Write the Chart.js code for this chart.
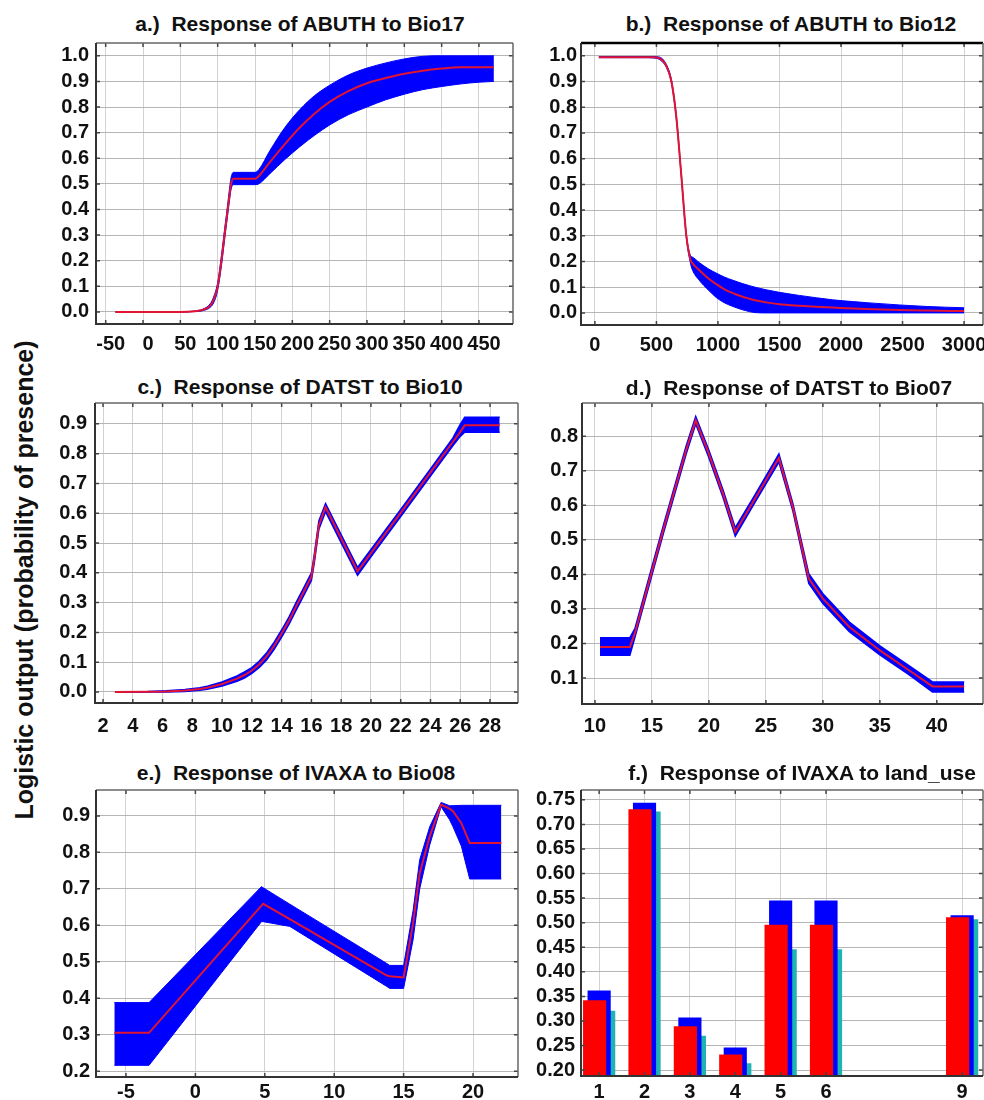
<!DOCTYPE html>
<html>
<head>
<meta charset="utf-8">
<title>Response curves</title>
<script src="https://cdn.jsdelivr.net/npm/chart.js@4.4.0/dist/chart.umd.min.js"></script>
<style>
  html, body { margin: 0; padding: 0; background: #fff; overflow: hidden; }
  #page { position: relative; width: 984px; height: 1100px; overflow: hidden;
          font-family: "Liberation Sans", Arial, sans-serif; color: #111; }
  .title { position: absolute; width: 420px; text-align: center; font-weight: bold;
           font-size: 21px; line-height: 24px; white-space: pre; }
  #ylabel { position: absolute; left: 24px; top: 580px; white-space: nowrap;
            transform: translate(-50%, -50%) rotate(-90deg);
            font-weight: bold; font-size: 25px; }
  canvas { position: absolute; }
</style>
</head>
<body>
<div id="page">
  <div id="ylabel">Logistic output (probability of presence)</div>
</div>
<script>
// a.) ABUTH vs Bio17
var aX    = [-37, 0, 50, 70, 80, 90, 95, 100, 105, 110, 113, 116, 118, 121, 150, 155, 170, 190, 210, 230, 250, 275, 300, 325, 350, 375, 400, 425, 450, 470];
var aMean = [0, 0, 0, 0.003, 0.008, 0.025, 0.05, 0.1, 0.2, 0.32, 0.39, 0.46, 0.5, 0.52, 0.52, 0.53, 0.585, 0.655, 0.72, 0.775, 0.82, 0.862, 0.893, 0.913, 0.93, 0.942, 0.95, 0.955, 0.955, 0.955];
var aLow  = [0, 0, 0, 0.002, 0.005, 0.018, 0.038, 0.085, 0.18, 0.3, 0.37, 0.44, 0.48, 0.497, 0.497, 0.5, 0.54, 0.595, 0.645, 0.69, 0.73, 0.77, 0.8, 0.828, 0.85, 0.868, 0.88, 0.89, 0.897, 0.9];
var aHigh = [0, 0, 0, 0.004, 0.011, 0.032, 0.062, 0.115, 0.22, 0.34, 0.41, 0.485, 0.525, 0.545, 0.545, 0.555, 0.63, 0.72, 0.79, 0.845, 0.885, 0.925, 0.952, 0.972, 0.988, 0.998, 1, 1, 1, 1];

// b.) ABUTH vs Bio12
var bX    = [32, 200, 400, 473, 527, 581, 622, 662, 703, 743, 778, 790, 851, 920, 986, 1050, 1122, 1200, 1257, 1311, 1392, 1500, 1662, 1800, 1932, 2100, 2203, 2473, 2700, 3000];
var bMean = [0.995, 0.995, 0.995, 0.995, 0.99, 0.96, 0.9, 0.76, 0.53, 0.3, 0.205, 0.195, 0.165, 0.135, 0.112, 0.093, 0.077, 0.063, 0.055, 0.048, 0.041, 0.034, 0.028, 0.024, 0.021, 0.017, 0.015, 0.011, 0.009, 0.007];
var bLow  = [0.993, 0.993, 0.993, 0.992, 0.985, 0.955, 0.893, 0.752, 0.522, 0.292, 0.19, 0.17, 0.125, 0.09, 0.06, 0.04, 0.025, 0.012, 0.005, 0.001, 0, 0, 0, 0, 0, 0, 0, 0, 0, 0];
var bHigh = [0.997, 0.997, 0.997, 0.997, 0.995, 0.966, 0.907, 0.768, 0.538, 0.308, 0.222, 0.218, 0.195, 0.172, 0.155, 0.14, 0.127, 0.114, 0.106, 0.099, 0.09, 0.08, 0.068, 0.059, 0.051, 0.044, 0.04, 0.031, 0.025, 0.02];
var bTicks = [0, 500, 1000, 1500, 2000, 2500, 3000];

// c.) DATST vs Bio10
var cX    = [2.8, 5, 6.25, 7.5, 8.5, 9, 10, 11, 11.5, 12, 12.5, 13, 13.5, 14, 14.5, 15, 15.5, 16, 16.2, 16.5, 16.95, 19.1, 20, 22, 24, 25.5, 26, 26.3, 27, 28.65];
var cMean = [0, 0.001, 0.002, 0.005, 0.01, 0.014, 0.027, 0.045, 0.057, 0.072, 0.093, 0.12, 0.155, 0.196, 0.24, 0.29, 0.338, 0.387, 0.45, 0.56, 0.62, 0.405, 0.466, 0.601, 0.737, 0.839, 0.873, 0.895, 0.895, 0.895];
var cLow  = [0, 0, 0, 0.002, 0.006, 0.009, 0.02, 0.036, 0.047, 0.062, 0.082, 0.108, 0.143, 0.184, 0.228, 0.277, 0.325, 0.374, 0.436, 0.546, 0.605, 0.392, 0.454, 0.589, 0.725, 0.826, 0.858, 0.872, 0.872, 0.872];
var cHigh = [0.001, 0.002, 0.004, 0.008, 0.014, 0.019, 0.034, 0.054, 0.067, 0.082, 0.104, 0.132, 0.167, 0.208, 0.252, 0.303, 0.351, 0.4, 0.464, 0.574, 0.632, 0.418, 0.478, 0.613, 0.749, 0.852, 0.898, 0.922, 0.922, 0.922];

// d.) DATST vs Bio07
var dX    = [10.44, 13.06, 13.5, 14, 15, 16, 17, 18, 18.84, 19.98, 21.23, 22.31, 24, 26.14, 27.36, 28.76, 30, 32.32, 35, 37.58, 39.62, 42.4];
var dMean = [0.19, 0.19, 0.23, 0.29, 0.41, 0.53, 0.645, 0.76, 0.846, 0.75, 0.634, 0.523, 0.617, 0.737, 0.595, 0.388, 0.33, 0.248, 0.18, 0.122, 0.076, 0.076];
var dLow  = [0.166, 0.166, 0.217, 0.278, 0.398, 0.518, 0.633, 0.748, 0.835, 0.739, 0.623, 0.511, 0.606, 0.725, 0.584, 0.374, 0.316, 0.234, 0.167, 0.109, 0.06, 0.06];
var dHigh = [0.217, 0.217, 0.243, 0.302, 0.422, 0.542, 0.657, 0.772, 0.857, 0.761, 0.645, 0.535, 0.628, 0.749, 0.606, 0.402, 0.344, 0.262, 0.193, 0.135, 0.089, 0.089];

// e.) IVAXA vs Bio08
var eX    = [-5.84, -3.34, 4.76, 4.88, 6.8, 13.76, 14, 15, 15.68, 16.16, 16.88, 17.7, 18.3, 18.56, 19.16, 19.76, 22.04];
var eMean = [0.305, 0.305, 0.654, 0.659, 0.617, 0.463, 0.46, 0.457, 0.605, 0.743, 0.844, 0.931, 0.92, 0.913, 0.88, 0.826, 0.826];
var eLow  = [0.216, 0.216, 0.61, 0.61, 0.597, 0.433, 0.427, 0.427, 0.56, 0.7, 0.82, 0.925, 0.89, 0.87, 0.817, 0.727, 0.727];
var eHigh = [0.388, 0.388, 0.706, 0.703, 0.658, 0.496, 0.49, 0.49, 0.64, 0.78, 0.87, 0.937, 0.928, 0.928, 0.929, 0.929, 0.929];

// f.) IVAXA vs land_use (categorical)
var fCats = [1, 2, 3, 4, 5, 6, 9];
var fRed  = [0.342, 0.731, 0.289, 0.232, 0.496, 0.496, 0.511];
var fBlue = [0.362, 0.744, 0.307, 0.246, 0.545, 0.545, 0.515];
var fTeal = [0.321, 0.726, 0.270, 0.214, 0.446, 0.446, 0.507];

var RED = 'rgb(225,20,50)';
var BAR_RED = '#ff0000';
var BLUE = '#0000ff';
var TEAL = '#1fb3b3';
var GRID_X = '#d2d2d2';
var GRID_Y = '#b6b6b6';

Chart.defaults.font.family = '"Liberation Sans", Arial, sans-serif';
Chart.defaults.font.weight = 'bold';
Chart.defaults.font.size = 20;
Chart.defaults.color = '#111';
Chart.defaults.animation = false;

var page = document.getElementById('page');

function pts(xs, ys) {
  return xs.map(function (x, i) { return { x: x, y: ys[i] }; });
}

function addTitle(text, cx, cy) {
  var d = document.createElement('div');
  d.className = 'title';
  d.textContent = text;
  d.style.left = (cx - 210) + 'px';
  d.style.top = (cy - 12) + 'px';
  page.appendChild(d);
}

// plot-area box -> canvas placed so that the chart area lands on it
function placeCanvas(box) {
  var left = box.pl - 70, top = box.pt - 10;
  var right = Math.min(984, box.pr + 8);
  var cv = document.createElement('canvas');
  cv.width = right - left;
  cv.height = box.pb - box.pt + 50;
  cv.style.left = left + 'px';
  cv.style.top = top + 'px';
  page.appendChild(cv);
  box.padR = cv.width - 70 - (box.pr - box.pl);
  return cv;
}

// frame around the plot with small inward tick marks
var framePlugin = {
  id: 'frame',
  afterDraw: function (chart, args, opts) {
    var a = chart.chartArea, ctx = chart.ctx;
    var xs = chart.scales.x, ys = chart.scales.y;
    ctx.save();
    ctx.strokeStyle = '#444';
    ctx.lineWidth = 1.5;
    ctx.beginPath();
    xs.ticks.forEach(function (t) {
      var p = xs.getPixelForValue(t.value);
      ctx.moveTo(p, a.top); ctx.lineTo(p, a.top + 4);
      ctx.moveTo(p, a.bottom); ctx.lineTo(p, a.bottom - 4);
    });
    ys.ticks.forEach(function (t) {
      var p = ys.getPixelForValue(t.value);
      ctx.moveTo(a.left, p); ctx.lineTo(a.left + 4, p);
      ctx.moveTo(a.right, p); ctx.lineTo(a.right - 4, p);
    });
    ctx.stroke();

    ctx.lineWidth = opts.topWidth || 1.5;
    ctx.strokeStyle = opts.topColor || '#666';
    ctx.beginPath(); ctx.moveTo(a.left, a.top); ctx.lineTo(a.right, a.top); ctx.stroke();
    ctx.lineWidth = 1.5;
    ctx.strokeStyle = '#666';
    ctx.beginPath(); ctx.moveTo(a.right, a.top); ctx.lineTo(a.right, a.bottom); ctx.stroke();
    ctx.lineWidth = 2;
    ctx.strokeStyle = '#333';
    ctx.beginPath();
    ctx.moveTo(a.left, a.top); ctx.lineTo(a.left, a.bottom); ctx.lineTo(a.right, a.bottom);
    ctx.stroke();
    ctx.restore();
  }
};

function makeScales(box, xr, yr, yDigits) {
  var x = {
    type: 'linear', min: xr[0], max: xr[1], offset: false,
    border: { display: false },
    grid: { color: GRID_X, drawTicks: false, offset: false },
    ticks: {
      stepSize: xr[2], padding: box.xPad, labelOffset: box.xShift || 0, autoSkip: false,
      maxRotation: 0, minRotation: 0, includeBounds: false,
      callback: function (v) { return String(v); }
    },
    afterFit: function (s) { s.height = 40; s.paddingLeft = 0; s.paddingRight = 0; }
  };
  if (box.xTicks) {
    x.afterBuildTicks = function (s) {
      s.ticks = box.xTicks.map(function (v) { return { value: v }; });
    };
  }
  return {
    x: x,
    y: {
      type: 'linear', min: yr[0], max: yr[1],
      border: { display: false },
      grid: { color: GRID_Y, drawTicks: false },
      ticks: {
        stepSize: yr[2], padding: box.yPad, includeBounds: false, autoSkip: false,
        callback: function (v) { return v.toFixed(yDigits); }
      },
      afterFit: function (s) { s.width = 70; s.paddingTop = 0; s.paddingBottom = 0; }
    }
  };
}

function baseOptions(box, scales, frame) {
  return {
    responsive: false,
    events: [],
    layout: { autoPadding: false, padding: { left: 0, top: 10, right: box.padR, bottom: 0 } },
    plugins: { legend: { display: false }, tooltip: { enabled: false }, title: { display: false }, frame: frame || {} },
    scales: scales
  };
}

function bandChart(box, xs, mean, low, high, xr, yr, look) {
  var cv = placeCanvas(box);
  var mode = look.smooth ? 'monotone' : 'default';
  return new Chart(cv, {
    type: 'line',
    data: {
      datasets: [
        { data: pts(xs, mean), borderColor: RED, borderWidth: 2, pointRadius: 0, fill: false,
          tension: 0, cubicInterpolationMode: mode },
        { data: pts(xs, high), borderColor: BLUE, backgroundColor: BLUE, borderWidth: look.edge,
          pointRadius: 0, fill: '+1', tension: 0, cubicInterpolationMode: mode },
        { data: pts(xs, low), borderColor: BLUE, borderWidth: look.edge, pointRadius: 0,
          fill: false, tension: 0, cubicInterpolationMode: mode }
      ]
    },
    options: baseOptions(box, makeScales(box, xr, yr, 1), look.frame),
    plugins: [framePlugin]
  });
}

// a
addTitle('a.)  Response of ABUTH to Bio17', 300, 24);
bandChart({ pl: 96, pt: 43, pr: 513, pb: 324, xPad: 8, yPad: 7, xShift: 5 },
  aX, aMean, aLow, aHigh, [-63, 495.6, 50], [-0.047, 1.05, 0.1], { smooth: true, edge: 1 });

// b
addTitle('b.)  Response of ABUTH to Bio12', 791, 24);
bandChart({ pl: 581, pt: 43, pr: 983, pb: 325, xPad: 8, yPad: 4, xTicks: bTicks },
  bX, bMean, bLow, bHigh, [-113, 3154, 500], [-0.047, 1.05, 0.1],
  { smooth: true, edge: 1, frame: { topColor: '#000', topWidth: 2.5 } });

// c
addTitle('c.)  Response of DATST to Bio10', 300, 387);
bandChart({ pl: 95, pt: 403, pr: 518, pb: 703, xPad: 11, yPad: 8 },
  cX, cMean, cLow, cHigh, [1.46, 29.88, 2], [-0.037, 0.97, 0.1], { smooth: false, edge: 1.5 });

// d
addTitle('d.)  Response of DATST to Bio07', 789, 388);
bandChart({ pl: 582, pt: 403, pr: 983, pb: 704, xPad: 10, yPad: 4 },
  dX, dMean, dLow, dHigh, [8.86, 44.05, 5], [0.025, 0.896, 0.1], { smooth: false, edge: 1.5 });

// e
addTitle('e.)  Response of IVAXA to Bio08', 296, 773);
bandChart({ pl: 96, pt: 790, pr: 518, pb: 1077, xPad: 3, yPad: 6 },
  eX, eMean, eLow, eHigh, [-7.16, 23.24, 5], [0.184, 0.971, 0.1], { smooth: false, edge: 1 });

// f
addTitle('f.)  Response of IVAXA to land_use', 802, 773);
(function () {
  var box = { pl: 581, pt: 790, pr: 983, pb: 1076, xPad: 4, yPad: 6, xTicks: fCats };
  var cv = placeCanvas(box);
  var scales = makeScales(box, [0.6, 9.46, 1], [0.188, 0.77, 0.05], 2);
  var barLook = { categoryPercentage: 0.3, barPercentage: 5.1, borderWidth: 0 };
  new Chart(cv, {
    type: 'bar',
    data: {
      datasets: [
        Object.assign({ data: pts(fCats, fRed), backgroundColor: BAR_RED }, barLook),
        Object.assign({ data: pts(fCats, fBlue), backgroundColor: BLUE }, barLook),
        Object.assign({ data: pts(fCats, fTeal), backgroundColor: TEAL }, barLook)
      ]
    },
    options: baseOptions(box, scales),
    plugins: [framePlugin]
  });
})();
</script>
</body>
</html>
